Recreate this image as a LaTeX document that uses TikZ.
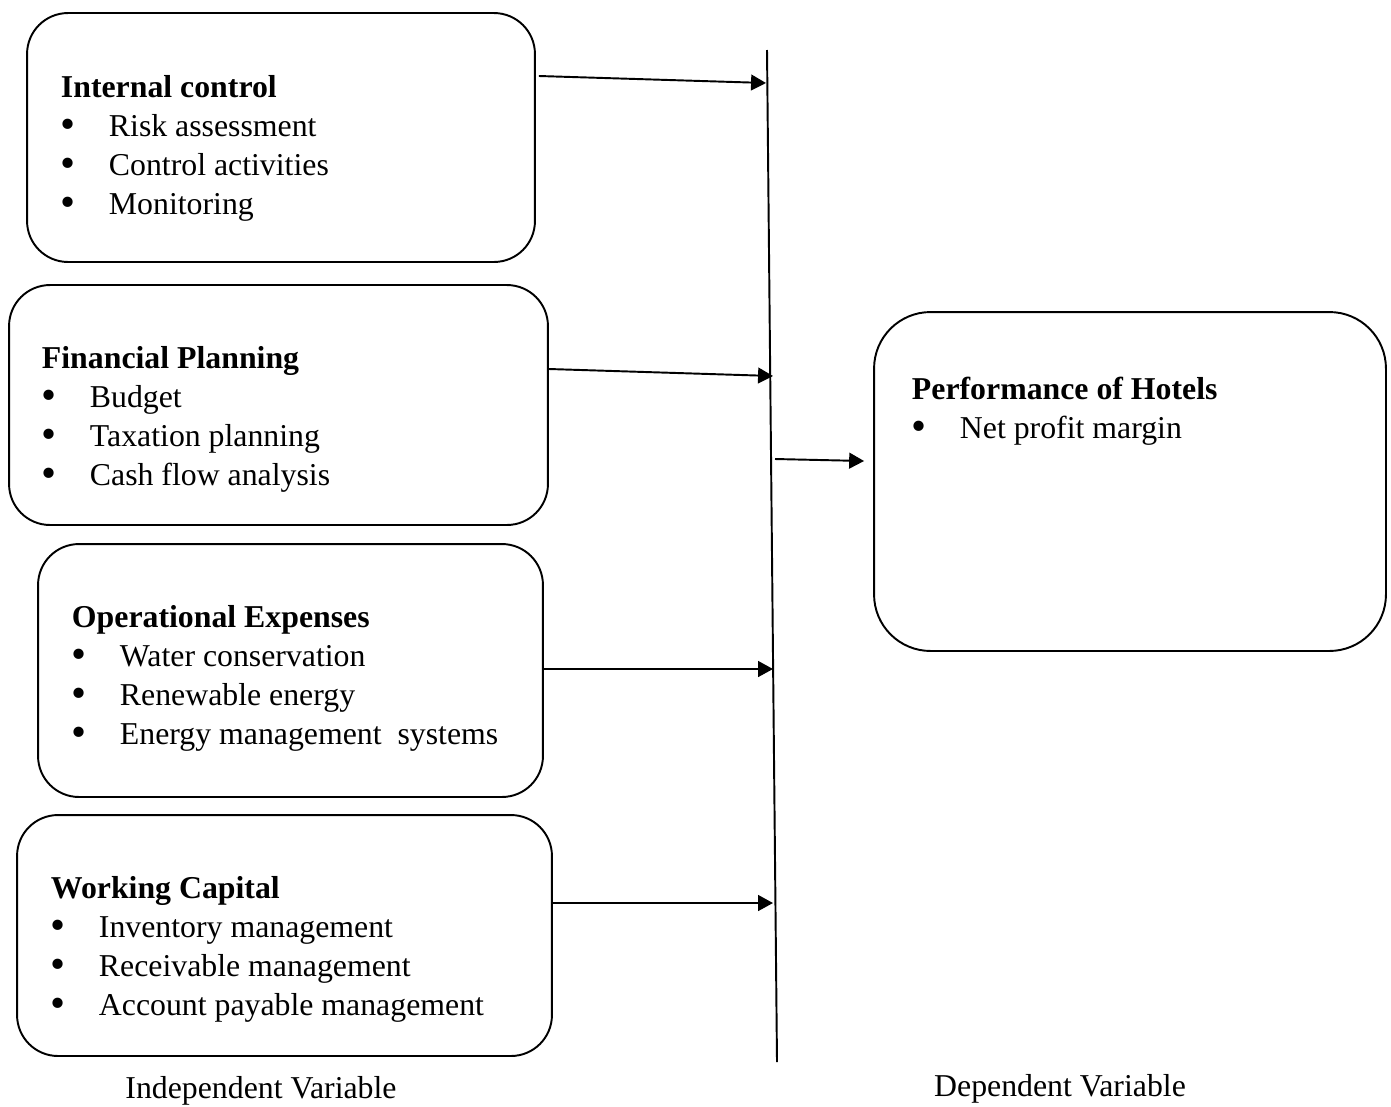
\documentclass[tikz,border=0pt]{standalone}
\usepackage{fontspec}
\setmainfont{Liberation Serif}
\usetikzlibrary{arrows.meta,calc}

\newcommand\itm[1]{\makebox[0.96cm][l]{\raisebox{-1.2pt}{\scalebox{1.35}{\textbullet}}}#1}

\begin{document}
\begin{tikzpicture}[x=0.02cm,y=-0.02cm,
  line width=1.1pt,
  >={Triangle[length=8.5pt,width=9pt]},
  box/.style={draw,rounded corners=0.82cm,inner sep=0pt},
  txt/.style={anchor=base west,inner sep=0pt,font=\fontsize{18.1}{22.2}\selectfont},
  ttl/.style={txt,font=\fontsize{18.1}{22.2}\selectfont\bfseries}]

\useasboundingbox (0,0) rectangle (1391,1106);

%independent variables
\node[box,minimum width=10.16cm,minimum height=4.98cm] (ic) at (281,137.5) {};
\node[ttl] (icT) at (60,97) {Internal control};
\node[txt] (ic1) at (60,136) {\itm{Risk assessment}};
\node[txt] (ic2) at (60,175) {\itm{Control activities}};
\node[txt] (ic3) at (60,214) {\itm{Monitoring}};

\node[box,minimum width=10.78cm,minimum height=4.8cm] (fp) at (278.5,405) {};
\node[ttl] (fpT) at (41,368) {Financial Planning};
\node[txt] (fp1) at (41,407) {\itm{Budget}};
\node[txt] (fp2) at (41,446) {\itm{Taxation planning}};
\node[txt] (fp3) at (41,485) {\itm{Cash flow analysis}};

\node[box,minimum width=10.1cm,minimum height=5.06cm] (oe) at (290.5,670.5) {};
\node[ttl] (oeT) at (71,627) {Operational Expenses};
\node[txt] (oe1) at (71,666) {\itm{Water conservation}};
\node[txt] (oe2) at (71,705) {\itm{Renewable energy}};
\node[txt] (oe3) at (71,744) {\itm{Energy management\ \ systems}};

\node[box,minimum width=10.7cm,minimum height=4.82cm] (wc) at (284.5,935.5) {};
\node[ttl] (wcT) at (50,898) {Working Capital};
\node[txt] (wc1) at (50,937) {\itm{Inventory management}};
\node[txt] (wc2) at (50,976) {\itm{Receivable management}};
\node[txt] (wc3) at (50,1015) {\itm{Account payable management}};

%dependent variable
\node[box,rounded corners=1.13cm,minimum width=10.24cm,minimum height=6.78cm] (perf) at (1130,481.5) {};
\node[ttl] (perfT) at (911,399) {Performance of Hotels};
\node[txt] (perf1) at (911,438) {\itm{Net profit margin}};

%joining line
\coordinate (lt) at (767,50);
\coordinate (lb) at (777,1062);
\draw (lt) -- (lb);

\coordinate (e1) at (766,83);
\coordinate (e2) at (773,376);
\coordinate (e3) at (773,669);
\coordinate (e4) at (773,903);
\coordinate (s5) at (775,459);

\draw[->] ($(ic.east)+(3,-61.5)$) -- (e1);
\draw[->] ($(fp.east)+(0,-36)$) -- (e2);
\draw[->] ($(oe.east)+(0,-1.5)$) -- (e3);
\draw[->] ($(wc.east)+(0,-32.5)$) -- (e4);
\draw[->] (s5) -- ($(perf.west)+(-9,-20.5)$);

\node[anchor=base,inner sep=0pt,font=\fontsize{18.1}{22.2}\selectfont] (indep) at (261,1098) {Independent Variable};
\node[anchor=base,inner sep=0pt,font=\fontsize{18.1}{22.2}\selectfont] (dep) at (1060,1096) {Dependent Variable};

\end{tikzpicture}
\end{document}
